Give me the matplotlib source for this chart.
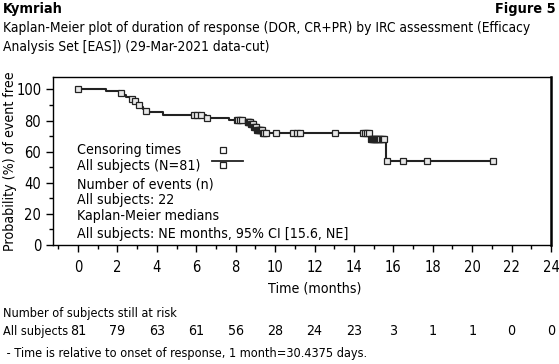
import numpy as np
import matplotlib
matplotlib.use("Agg")
import matplotlib.pyplot as plt
from matplotlib import font_manager as fm
from matplotlib.ticker import MultipleLocator

# pick a narrow sans face if one is installed (reference uses a condensed font)
names = {(f.name, str(f.stretch)) for f in fm.fontManager.ttflist}
stretch = 'normal'
if any(n == 'Liberation Sans Narrow' for n, _ in names):
    family = 'Liberation Sans Narrow'
elif ('DejaVu Sans', 'condensed') in names or ('DejaVu Sans', '75') in names:
    family, stretch = 'DejaVu Sans', 'condensed'
else:
    family = 'Liberation Sans'
plt.rcParams['font.family'] = [family, 'DejaVu Sans']
plt.rcParams['font.stretch'] = stretch
scale = 1.0 if family != 'Liberation Sans' else 0.86
fs = 10.2 * scale
fs_tick = 10.5 * scale
fs_small = 9.1 * scale
fs_title = 9.9 * scale

# KM step curve (time in months, survival in %)
step_t = [0, 1.42, 2.13, 2.25, 2.45, 2.65, 2.8, 2.95, 3.05, 3.15, 3.28, 3.4, 3.55,
          4.33, 6.5, 7.68, 8.6, 8.76, 8.92, 9.1, 9.4, 14.8, 15.62]
step_s = [100, 98.8, 97.5, 96.3, 95.0, 93.8, 92.5, 91.3, 90.0, 88.8, 87.6, 86.4, 85.2,
          83.5, 81.9, 80.4, 79.0, 77.5, 76.0, 74.0, 72.0, 68.3, 54.2]
end_t = 21.05

# censoring times
cens_t = [0, 2.2, 2.75, 2.9, 3.1, 3.45, 5.9, 6.05, 6.25, 6.56,
          8.05, 8.1, 8.2, 8.3, 8.6, 8.65, 8.7, 8.75, 8.8, 8.85, 8.9, 8.95, 9.0,
          9.05, 9.1, 9.15, 9.2, 9.25, 9.3, 9.35, 9.4, 9.45, 9.54,
          10.05, 10.9, 11.1, 11.25, 13.05,
          14.45, 14.55, 14.65, 14.75, 14.85, 14.9, 14.95, 15.0, 15.05, 15.1,
          15.15, 15.2, 15.25, 15.3, 15.4, 15.5, 15.55, 15.7, 16.5, 17.7, 21.05]

risk_times = [0, 2, 4, 6, 8, 10, 12, 14, 16, 18, 20, 22, 24]
risk_n = [81, 79, 63, 61, 56, 28, 24, 23, 3, 1, 1, 0, 0]

legend_lines = ["Censoring times", "All subjects (N=81)", "Number of events (n)",
                "All subjects: 22", "Kaplan-Meier medians",
                "All subjects: NE months, 95% CI [15.6, NE]"]
legend_y = [61.2, 51.0, 39.0, 29.0, 18.4, 7.3]

fig = plt.figure(figsize=(5.59, 3.64), dpi=100)
ax = fig.add_axes([53 / 559, 1 - 245 / 364, 498 / 559, 168 / 364])

col = '#222222'
xs = list(step_t) + [end_t]
ys = list(step_s) + [step_s[-1]]
ax.step(xs, ys, where='post', color=col, lw=1.5, zorder=2)

# censor marks sit on the curve
idx = np.searchsorted(step_t, cens_t, side='right') - 1
cens_s = np.array(step_s)[idx]
ax.plot(cens_t, cens_s, ls='none', marker='s', ms=4.2, mfc='#e8e8e8', mec=col,
        mew=0.9, zorder=3)

ax.set_xlim(-1.27, 24)
ax.set_ylim(0, 108)
ax.set_xticks(range(0, 25, 2))
ax.xaxis.set_minor_locator(MultipleLocator(1))
ax.set_yticks(range(0, 101, 20))
ax.yaxis.set_minor_locator(MultipleLocator(10))
ax.tick_params(which='major', direction='out', length=5, width=1, labelsize=fs_tick,
               colors='black')
ax.tick_params(which='minor', direction='out', length=3, width=1)
ax.tick_params(axis='x', pad=6)
for s in ax.spines.values():
    s.set_linewidth(1)
ax.spines['right'].set_linewidth(1.8)
ax.set_ylabel("Probability (%) of event free", fontsize=fs)
ax.yaxis.set_label_coords(-0.072, 0.5)

# legend block drawn as text
for txt, y in zip(legend_lines, legend_y):
    ax.text(-0.05, y, txt, fontsize=fs, va='center', ha='left')
ax.plot([7.36], [60.8], ls='none', marker='s', ms=4.5, mfc='white', mec=col, mew=0.9)
ax.plot([6.78, 8.36], [54.2, 54.2], color=col, lw=1.3)
ax.plot([7.35], [51.6], ls='none', marker='s', ms=4.5, mfc='white', mec=col, mew=0.9)

# x label centred on the data range
ax.text(12, -28, "Time (months)", fontsize=fs, ha='center', va='center',
        clip_on=False)

# risk table
fig.text(3 / 559, 1 - 313 / 364, "Number of subjects still at risk", fontsize=fs_small,
         va='center', ha='left')
fig.text(3 / 559, 1 - 331 / 364, "All subjects", fontsize=fs_small, va='center', ha='left')
for t, n in zip(risk_times, risk_n):
    ax.text(t, -55.5, str(n), fontsize=fs, ha='center', va='center', clip_on=False)

fig.text(3 / 559, 1 - 353 / 364, " - Time is relative to onset of response, 1 month=30.4375 days.",
         fontsize=fs_small, va='center', ha='left')

# titles
fig.text(3 / 559, 1 - 9 / 364, "Kymriah", fontsize=fs_title + 0.5, fontweight='bold',
         va='center', ha='left')
fig.text(556 / 559, 1 - 9 / 364, "Figure 5", fontsize=fs_title + 0.5, fontweight='bold',
         va='center', ha='right')
fig.text(3 / 559, 1 - 28 / 364,
         "Kaplan-Meier plot of duration of response (DOR, CR+PR) by IRC assessment (Efficacy",
         fontsize=fs_title, va='center', ha='left')
fig.text(3 / 559, 1 - 47 / 364, "Analysis Set [EAS]) (29-Mar-2021 data-cut)",
         fontsize=fs_title, va='center', ha='left')

fig.savefig("out.png", dpi=100)
